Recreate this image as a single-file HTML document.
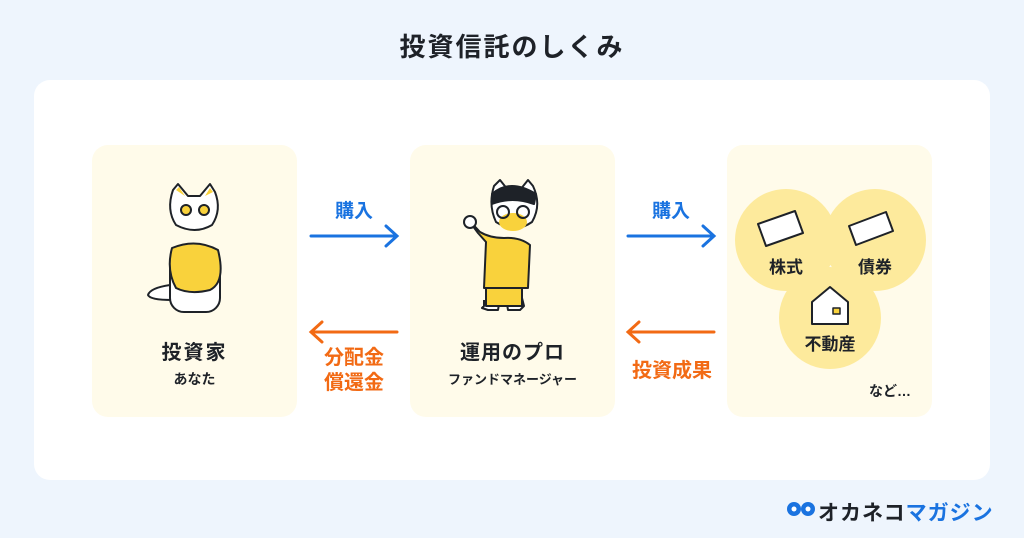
<!DOCTYPE html>
<html><head><meta charset="utf-8"><style>
body{margin:0;width:1024px;height:538px;background:#eef5fd;position:relative;overflow:hidden;font-family:"Liberation Sans","Noto Sans CJK JP",sans-serif;color:#1e2228}
.a{position:absolute}
.panel{left:34px;top:80px;width:956px;height:400px;background:#fff;border-radius:16px}
.box{top:145px;height:272px;width:205px;background:#fffbea;border-radius:16px}
.t{font-weight:bold;text-align:center}
</style></head><body>
<div class="a t" style="left:0;width:1024px;top:27px;font-size:26px;letter-spacing:2px">投資信託のしくみ</div>
<div class="a panel"></div>
<div class="a box" style="left:92px"></div>
<div class="a box" style="left:410px"></div>
<div class="a box" style="left:727px"></div>
<svg class="a" style="left:0;top:0" width="1024" height="538">
<g stroke="#1e2228" stroke-width="2" stroke-linejoin="round">
<path d="M172 300 Q150 300 148 295 Q150 288 170 285 Z" fill="#fff"/>
<rect x="170" y="250" width="50" height="62" rx="14" fill="#fff"/>
<path d="M173 190 L178 184 L188 196 L200 196 L210 184 L215 192 Q222 210 212 225 Q195 235 176 225 Q166 210 173 190Z" fill="#fff"/>
<path d="M176 190 L179 187 L185 196Z M210 188 L213 192 L205 196Z" fill="#f9d23c" stroke="none"/>
<circle cx="186" cy="210" r="5" fill="#f9d23c"/><circle cx="204" cy="210" r="5" fill="#f9d23c"/>
<path d="M172 248 Q196 238 218 250 Q226 282 210 290 Q190 295 176 288 Q166 270 172 248Z" fill="#f9d23c"/>
</g>
<g stroke="#1e2228" stroke-width="2" stroke-linejoin="round">
<path d="M484 300 L484 306 L482 308 L488 310 L498 310 L500 298 M506 298 L508 310 L520 310 L524 306 L522 298Z" fill="#fff"/>
<rect x="486" y="270" width="36" height="36" fill="#f9d23c"/>
<path d="M467 218 L478 233 L486 242 L484 288 L528 288 L530 245 Q520 237 504 238 Q490 238 480 232 Z" fill="#f9d23c"/>
<circle cx="470" cy="222" r="6" fill="#fff"/>
<path d="M494 186 L500 180 L508 190 L520 190 L528 180 L533 186 Q542 205 532 222 Q515 234 496 222 Q488 205 494 186Z" fill="#fff"/>
<path d="M492 194 Q510 178 536 194 L534 204 Q512 196 492 204Z" fill="#1e2228"/>
<ellipse cx="513" cy="222" rx="14" ry="9" fill="#f9d23c" stroke="none"/>
<circle cx="503" cy="212" r="6" fill="none"/><circle cx="523" cy="212" r="6" fill="none"/>
</g>
<circle cx="786" cy="240" r="51" fill="#fdea9c"/>
<circle cx="875" cy="240" r="51" fill="#fdea9c"/>
<circle cx="830" cy="318" r="51" fill="#fdea9c"/>
<g stroke="#1e2228" stroke-width="2" stroke-linejoin="round">
<path d="M758 224 L795 211 L803 233 L766 246Z" fill="#fff"/>
<path d="M849 226 L886 212 L893 231 L856 245Z" fill="#fff"/>
<path d="M812 302 L830 287 L848 302 L848 324 L812 324Z" fill="#fff"/>
<rect x="833" y="308" width="7" height="6" fill="#f9d23c" stroke-width="1.5"/>
</g>
<g fill="none" stroke-width="3" stroke-linecap="round">
<g stroke="#1a73e0"><path d="M311 236 H396 M386 226 L397 236 L386 246"/><path d="M628 236 H713 M703 226 L714 236 L703 246"/></g>
<g stroke="#f26a14"><path d="M312 332 H397 M322 322 L311 332 L322 342"/><path d="M629 332 H714 M639 322 L628 332 L639 342"/></g>
</g>
<g fill="#1a73e0"><circle cx="794" cy="509" r="7"/><circle cx="808" cy="509" r="7"/></g>
<g fill="#fff"><circle cx="794" cy="509" r="2.5"/><circle cx="808" cy="509" r="2.5"/></g>
</svg>
<div class="a t" style="left:310px;width:88px;top:196px;font-size:19px;color:#1a73e0">購入</div>
<div class="a t" style="left:627px;width:88px;top:196px;font-size:19px;color:#1a73e0">購入</div>
<div class="a t" style="left:306px;width:96px;top:346px;font-size:20px;line-height:25px;color:#f26a14">分配金<br>償還金</div>
<div class="a t" style="left:620px;width:104px;top:354px;font-size:20px;color:#f26a14">投資成果</div>
<div class="a t" style="left:92px;width:205px;top:336px;font-size:20px;letter-spacing:2px">投資家</div>
<div class="a t" style="left:92px;width:205px;top:369px;font-size:14px">あなた</div>
<div class="a t" style="left:410px;width:205px;top:336px;font-size:20px;letter-spacing:1px">運用のプロ</div>
<div class="a t" style="left:410px;width:205px;top:369px;font-size:13px">ファンドマネージャー</div>
<div class="a t" style="left:754px;width:64px;top:253px;font-size:17px">株式</div>
<div class="a t" style="left:843px;width:64px;top:253px;font-size:17px">債券</div>
<div class="a t" style="left:790px;width:80px;top:330px;font-size:17px">不動産</div>
<div class="a t" style="left:860px;width:60px;top:381px;font-size:14px">など…</div>
<div class="a" style="left:818px;top:497px;font-size:21px;font-weight:bold;letter-spacing:1px">オカネコ<span style="color:#1a73e0">マガジン</span></div>
</body></html>
